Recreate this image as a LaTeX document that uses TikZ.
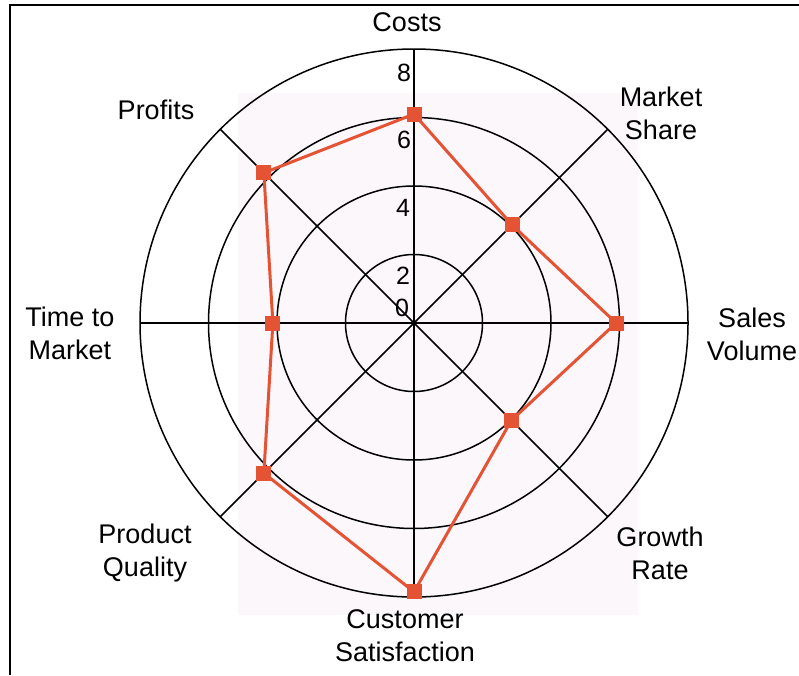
\documentclass[tikz,border=0pt]{standalone}
\usepackage{fontspec}
\setmainfont{Liberation Sans}
\definecolor{redline}{RGB}{228,84,52}
\definecolor{pinkbg}{RGB}{251,247,250}
\tikzset{
  gridline/.style={line width=1.5pt, black},
  poly/.style={line width=3pt, redline, line join=round},
  mk/.style={rectangle, fill=redline, minimum size=15pt, inner sep=0pt},
  axlabel/.style={align=center, font=\fontsize{27}{33}\selectfont, inner sep=0pt},
  numlabel/.style={font=\fontsize{25}{30}\selectfont, inner sep=0pt}
}
\begin{document}
\begin{tikzpicture}[x=1pt,y=-1pt]
\useasboundingbox (0,0) rectangle (799,675);
\fill[white] (0,0) rectangle (799,675);
% frame
\draw[line width=2pt] (10,675) -- (10,5) -- (799,5);
% pink background
\fill[pinkbg] (238,93) rectangle (638,615);
\begin{scope}[shift={(414,323)}, x=1pt, y=1pt]
  \coordinate (c) at (0,0);
  \foreach \r in {68.5,137,205.5,274}{
    \draw[gridline] (c) circle (\r);
  }
  \foreach \a/\n in {90/o1,45/o2,0/o3,-45/o4,-90/o5,-135/o6,180/o7,135/o8}{
    \coordinate (\n) at (\a:274);
    \draw[gridline] (c) -- (\n);
  }
  \coordinate (d1) at (90:{6.1*34.25});
  \coordinate (d2) at (45:{4.05*34.25});
  \coordinate (d3) at (0:{5.9*34.25});
  \coordinate (d4) at (-45:{4.02*34.25});
  \coordinate (d5) at (-90:{7.85*34.25});
  \coordinate (d6) at (-135:{6.2*34.25});
  \coordinate (d7) at (180:{4.12*34.25});
  \coordinate (d8) at (135:{6.2*34.25});
  \draw[poly] (d1) -- (d2) -- (d3) -- (d4) -- (d5) -- (d6) -- (d7) -- (d8) -- cycle;
  \foreach \n in {1,...,8}{
    \node[mk] (m\n) at (d\n) {};
  }
\end{scope}
% scale numbers
\node[numlabel] (n8) at (404,73) {8};
\node[numlabel] (n6) at (404,140) {6};
\node[numlabel] (n4) at (403,208) {4};
\node[numlabel] (n2) at (403,276) {2};
\node[numlabel] (n0) at (402,308) {0};
% axis labels
\node[axlabel] (lc) at (407,22) {Costs};
\node[axlabel] (lm) at (661,113) {Market\\Share};
\node[axlabel] (ls) at (752,334) {Sales\\Volume};
\node[axlabel] (lg) at (660,553) {Growth\\Rate};
\node[axlabel] (lcs) at (405,636) {Customer\\Satisfaction};
\node[axlabel] (lp) at (145,553) {Product\\Quality};
\node[axlabel] (lt) at (70,333) {Time to\\Market};
\node[axlabel] (lpr) at (156,110) {Profits};
\end{tikzpicture}
\end{document}
